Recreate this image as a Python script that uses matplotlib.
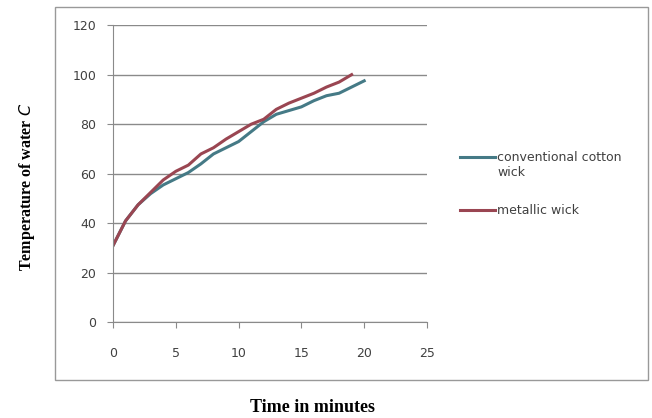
import matplotlib.pyplot as plt
from matplotlib.patches import Rectangle
from matplotlib.lines import Line2D

# time in minutes and water temperature readings
time_conv = list(range(0, 21))
temp_conv = [31, 41, 47.5, 52, 55.5, 58, 60.5, 64, 68, 70.5, 73,
             77, 81, 84, 85.5, 87, 89.5, 91.5, 92.5, 95, 97.5]
time_metal = list(range(0, 20))
temp_metal = [31, 41, 47.5, 52.5, 57.5, 61, 63.5, 68, 70.5, 74, 77,
              80, 82, 86, 88.5, 90.5, 92.5, 95, 97, 100]

labels = ['conventional cotton\nwick', 'metallic wick']
xticks = [0, 5, 10, 15, 20, 25]
yticks = [0, 20, 40, 60, 80, 100, 120]

c_conv = '#457a86'
c_metal = '#9a4652'
grey = '#8a8a8a'

fig = plt.figure(figsize=(6.52, 4.18), dpi=100)

# outer chart-area border
fig.patches.append(Rectangle((0.0844, 0.0909), 0.9095, 0.892,
                             transform=fig.transFigure, fill=False,
                             edgecolor='#999999', linewidth=1.0))

ax = fig.add_axes([0.1733, 0.2285, 0.4816, 0.7115])
ax.plot(time_conv, temp_conv, color=c_conv, linewidth=2.2)
ax.plot(time_metal, temp_metal, color=c_metal, linewidth=2.2)

ax.set_xlim(0, 25)
ax.set_ylim(0, 120)
ax.set_xticks(xticks)
ax.set_yticks(yticks)
ax.yaxis.grid(True, color=grey, linewidth=1.0)
ax.set_axisbelow(True)
for s in ['top', 'right']:
    ax.spines[s].set_visible(False)
for s in ['left', 'bottom']:
    ax.spines[s].set_color(grey)
ax.tick_params(axis='both', direction='out', length=4, color=grey,
               labelsize=9, labelcolor='#404040')
ax.tick_params(axis='x', pad=14)
ax.tick_params(axis='y', pad=8)

# legend drawn by hand so the handle sits on the first text line
for lab, col, yy in zip(labels, [c_conv, c_metal], [0.6244, 0.4976]):
    fig.lines.append(Line2D([0.7055, 0.7592], [yy, yy], color=col,
                            linewidth=2.2, transform=fig.transFigure))
    for i, part in enumerate(lab.split('\n')):
        fig.text(0.7623, yy - i * 0.036, part, ha='left', va='center',
                 fontsize=9, color='#404040')

fig.text(0.042, 0.553, 'Temperature of water $\\mathit{C}$', rotation=90,
         ha='center', va='center', fontsize=11.5, fontweight='bold',
         family='Liberation Serif')
fig.text(0.479, 0.024, 'Time in minutes', ha='center', va='center',
         fontsize=13, fontweight='bold', family='Liberation Serif')

fig.savefig('out.png', dpi=100)
